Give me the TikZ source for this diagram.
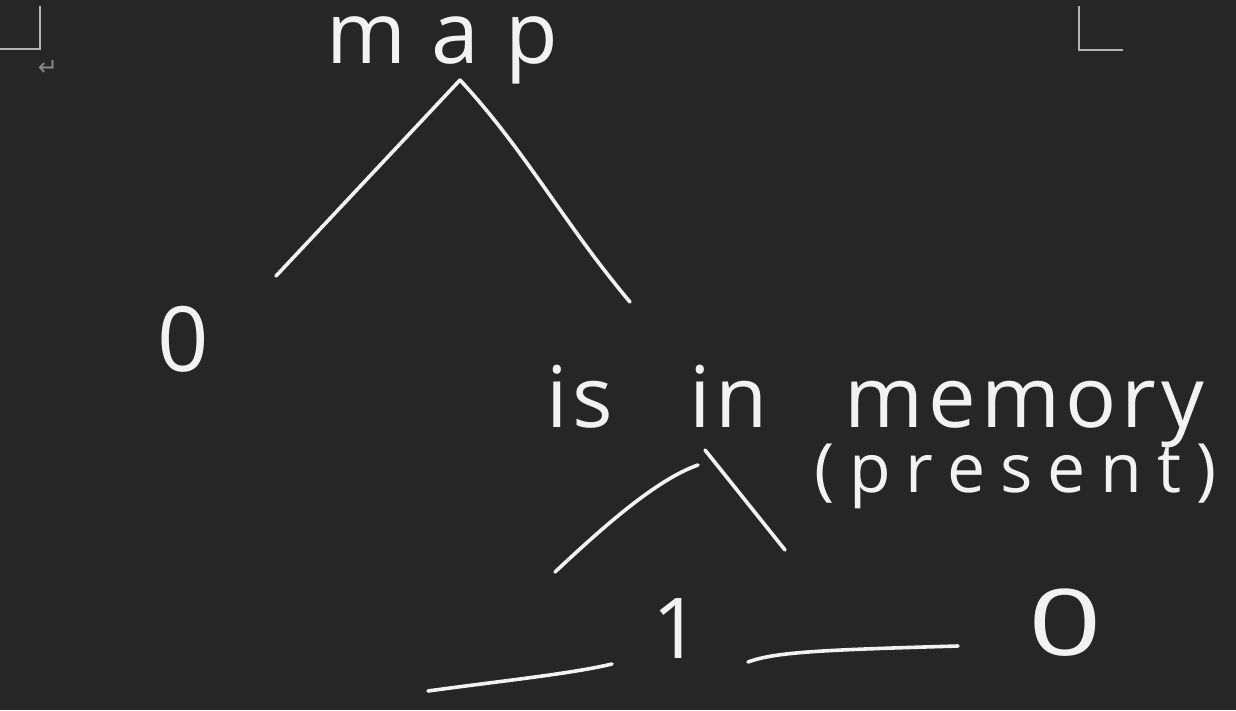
\documentclass[tikz,border=0pt]{standalone}
\usepackage{fontspec}
\newfontfamily\hand{Open Sans}
\newfontfamily\handwide{Open Sans}[WordSpace=2.8,LetterSpace=6]
\newfontfamily\symf{DejaVu Sans}
\definecolor{bg}{HTML}{262626}
\definecolor{ink}{HTML}{F2F2F2}
\definecolor{mark}{HTML}{B4B4B4}
\definecolor{retc}{HTML}{8A8A8A}
\begin{document}
\begin{tikzpicture}[x=1pt,y=-1pt,
  stroke/.style={draw=ink,line width=3.6pt,line cap=round,line join=round},
  cornermark/.style={draw=mark,line width=1.4pt},
  txt/.style={inner sep=0pt,outer sep=0pt,text=ink,anchor=base west}]
\fill[bg] (0,0) rectangle (1236,710);
\useasboundingbox (0,0) rectangle (1236,710);
% corner marks
\draw[cornermark] (0,49) -- (40,49) -- (40,6);
\draw[cornermark] (1079,6) -- (1079,50) -- (1123,50);
\node[inner sep=0pt,text=retc,font=\symf\fontsize{24pt}{24pt}\selectfont] (ret) at (48,68) {↵};
% texts
\node[txt,text height=50pt,text depth=24pt,font=\hand\fontsize{86pt}{86pt}\selectfont\addfontfeature{LetterSpace=30}] (map) at (326,63) {map};
\node[txt,font=\hand\fontsize{90pt}{90pt}\selectfont] (zeroL) at (157,371) {0};
\node[txt,font=\handwide\fontsize{85pt}{85pt}\selectfont] (mem) at (546,427) {is in memory};
\node[txt,font=\hand\fontsize{68pt}{68pt}\selectfont\addfontfeature{LetterSpace=22}] (pres) at (814,492) {(present)};
\node[txt,font=\hand\fontsize{84pt}{84pt}\selectfont] (one) at (652,658) {1};
\node[txt,xscale=1.4,font=\hand\fontsize{92pt}{92pt}\selectfont] (zeroR) at (1028,655) {0};
% connector points
\coordinate (apex) at (460,80);
\coordinate (lEnd) at (276,276);
\coordinate (rEnd) at (630,302);
\coordinate (sA) at (555,572);
\coordinate (sB) at (698,465);
\coordinate (bA) at (705,450);
\coordinate (bB) at (785,550);
\coordinate (hL1) at (428,691);
\coordinate (hL2) at (612,664);
\coordinate (hR1) at (748,662);
\coordinate (hR2) at (958,646);
% connectors
\draw[stroke] (apex) -- (lEnd);
\draw[stroke] (apex) .. controls (525,150) and (565,225) .. (rEnd);
\draw[stroke] (sA) .. controls (600,530) and (655,480) .. (sB);
\draw[stroke] (bA) -- (bB);
\draw[stroke] (hL1) .. controls (500,681) and (570,674) .. (hL2);
\draw[stroke] (hR1) .. controls (775,652) and (820,650) .. (hR2);
\end{tikzpicture}
\end{document}
